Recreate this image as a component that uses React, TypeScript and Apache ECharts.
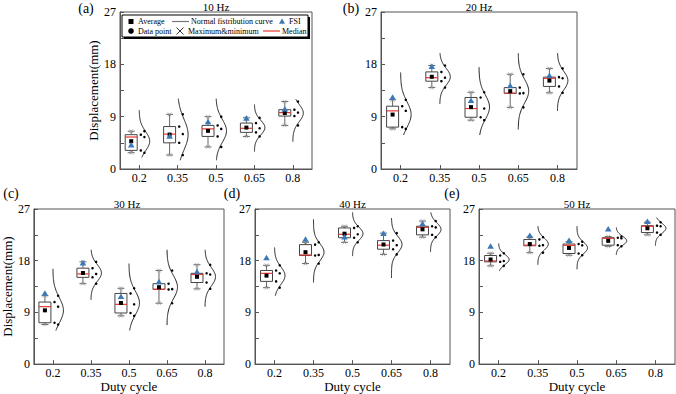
import React, { useEffect, useRef } from 'react';
import * as echarts from 'echarts';

const SERIF = "'Liberation Serif', 'Times New Roman', serif";

const DUTY_CYCLES = ['0.2', '0.35', '0.5', '0.65', '0.8'];
const Y_MIN = 0;
const Y_MAX = 27;
const Y_INTERVAL = 9;

// ---- 10 Hz ----
const POINTS_10HZ = [
  [2.8, 3.2, 5.5, 5.9, 6.5],
  [2.4, 4.5, 6.0, 7.3, 9.4],
  [3.8, 5.6, 6.9, 7.5, 9.0],
  [5.6, 6.3, 7.0, 7.9, 8.8],
  [7.5, 9.1, 9.7, 10.2, 11.6],
];
const FSI_10HZ = [4.1, 5.6, 8.1, 8.7, 10.3];
const CURVE_LOW_10HZ = [2.0, 1.5, 1.5, 3.0, 4.7];
const CURVE_HIGH_10HZ = [10.1, 12.1, 12.1, 11.1, 12.0];

// ---- 20 Hz ----
const POINTS_20HZ = [
  [6.9, 7.2, 10.0, 10.8, 11.9],
  [14.0, 15.1, 15.7, 16.7, 17.8],
  [8.4, 8.9, 10.4, 12.3, 13.2],
  [10.6, 13.0, 13.05, 14.0, 16.3],
  [13.1, 14.2, 15.6, 15.8, 17.3],
];
const FSI_20HZ = [12.3, 17.6, 11.75, 14.3, 16.05];
const CURVE_LOW_20HZ = [5.85, 11.2, 5.85, 6.8, 10.0];
const CURVE_HIGH_20HZ = [16.6, 19.9, 17.5, 19.9, 19.9];

// ---- 30 Hz ----
const POINTS_30HZ = [
  [6.9, 7.2, 10.0, 10.8, 11.9],
  [14.0, 15.1, 15.7, 16.7, 17.8],
  [8.4, 8.9, 10.4, 12.3, 13.2],
  [10.6, 13.0, 13.05, 14.0, 16.3],
  [13.1, 14.2, 15.6, 15.8, 17.3],
];
const FSI_30HZ = [12.3, 17.6, 11.75, 14.3, 16.05];
const CURVE_LOW_30HZ = [5.85, 11.2, 5.85, 6.8, 10.0];
const CURVE_HIGH_30HZ = [16.6, 19.9, 17.5, 19.9, 19.9];

// ---- 40 Hz ----
const POINTS_40HZ = [
  [13.3, 14.4, 15.8, 16.3, 17.2],
  [17.5, 18.9, 19.0, 20.8, 21.2],
  [21.2, 22.0, 22.6, 23.7, 24.0],
  [19.1, 20.0, 20.7, 21.5, 22.8],
  [22.1, 22.5, 23.8, 24.0, 24.9],
];
const FSI_40HZ = [18.5, 21.7, 22.1, 22.7, 24.4];
const CURVE_LOW_40HZ = [11.9, 14.2, 18.8, 15.0, 19.5];
const CURVE_HIGH_40HZ = [20.3, 25.2, 26.4, 25.4, 26.4];

// ---- 50 Hz ----
const POINTS_50HZ = [
  [17.1, 17.8, 17.95, 18.9, 19.3],
  [19.4, 20.6, 20.7, 21.7, 22.1],
  [18.96, 19.25, 20.68, 20.9, 21.3],
  [20.5, 20.7, 21.9, 22.0, 22.2],
  [22.5, 22.9, 24.0, 24.1, 24.7],
];
const FSI_50HZ = [20.5, 22.35, 21.5, 23.5, 24.8];
const CURVE_LOW_50HZ = [16.2, 17.3, 16.5, 19.0, 20.6];
const CURVE_HIGH_50HZ = [21.0, 24.0, 24.0, 23.8, 25.5];

const PANEL_TITLES = ['10 Hz', '20 Hz', '30 Hz', '40 Hz', '50 Hz'];
const PANEL_LETTERS = ['(a)', '(b)', '(c)', '(d)', '(e)'];

const PANELS = [
  { points: POINTS_10HZ, fsi: FSI_10HZ, lo: CURVE_LOW_10HZ, hi: CURVE_HIGH_10HZ,
    grid: { left: 120, top: 12, width: 192, height: 157 }, yName: true, yNameGap: 20, xName: false, letter: [86, 8] },
  { points: POINTS_20HZ, fsi: FSI_20HZ, lo: CURVE_LOW_20HZ, hi: CURVE_HIGH_20HZ,
    grid: { left: 381, top: 12, width: 196, height: 157 }, yName: false, yNameGap: 20, xName: false, letter: [351, 8] },
  { points: POINTS_30HZ, fsi: FSI_30HZ, lo: CURVE_LOW_30HZ, hi: CURVE_HIGH_30HZ,
    grid: { left: 30, top: 209, width: 194, height: 157 }, yName: true, yNameGap: 15, xName: true, letter: [11, 193] },
  { points: POINTS_40HZ, fsi: FSI_40HZ, lo: CURVE_LOW_40HZ, hi: CURVE_HIGH_40HZ,
    grid: { left: 255, top: 209, width: 195, height: 157 }, yName: false, yNameGap: 20, xName: true, letter: [232, 193] },
  { points: POINTS_50HZ, fsi: FSI_50HZ, lo: CURVE_LOW_50HZ, hi: CURVE_HIGH_50HZ,
    grid: { left: 479, top: 209, width: 196, height: 157 }, yName: false, yNameGap: 20, xName: true, letter: [452, 193] },
];

function median(arr: number[]) {
  const m = arr.length;
  return m % 2 ? arr[(m - 1) / 2] : (arr[m / 2 - 1] + arr[m / 2]) / 2;
}

function stats(values: number[]) {
  const s = values.slice().sort((a, b) => a - b);
  const n = s.length;
  const half = Math.ceil(n / 2);
  const mean = s.reduce((a, b) => a + b, 0) / n;
  const sd = Math.sqrt(s.reduce((a, b) => a + (b - mean) * (b - mean), 0) / (n - 1));
  return {
    sorted: s,
    min: s[0],
    max: s[n - 1],
    q1: median(s.slice(0, half)),
    q3: median(s.slice(n - half)),
    med: median(s),
    mean,
    sd,
  };
}

const FSI_COLOR = '#3a78b8';
const MEDIAN_COLOR = '#e8362f';

function makeRenderItem(panel: any) {
  return (params: any, api: any) => {
    const i = api.value(0);
    const st = stats(panel.points[i]);
    const tx = api.coord([i, 0])[0];
    const Y = (v: number) => api.coord([i, v])[1];
    const bx = tx - 8;
    const bw = 12;
    const children: any[] = [];

    // normal distribution curve
    const lo = panel.lo[i];
    const hi = panel.hi[i];
    const amp = 10.5;
    const pts: number[][] = [];
    const steps = 70;
    for (let k = 0; k <= steps; k++) {
      const v = lo + ((hi - lo) * k) / steps;
      const z = (v - st.mean) / st.sd;
      pts.push([tx + amp * Math.exp((-z * z) / 2), Y(v)]);
    }
    children.push({ type: 'polyline', shape: { points: pts }, style: { stroke: '#222', lineWidth: 1, fill: 'none' } });

    // whiskers
    const wStyle = { stroke: '#666', lineWidth: 1 };
    children.push({ type: 'line', shape: { x1: bx, y1: Y(st.max), x2: bx, y2: Y(st.q3) }, style: wStyle });
    children.push({ type: 'line', shape: { x1: bx, y1: Y(st.min), x2: bx, y2: Y(st.q1) }, style: wStyle });
    children.push({ type: 'line', shape: { x1: bx - 3.5, y1: Y(st.max), x2: bx + 3.5, y2: Y(st.max) }, style: wStyle });
    children.push({ type: 'line', shape: { x1: bx - 3.5, y1: Y(st.min), x2: bx + 3.5, y2: Y(st.min) }, style: wStyle });
    // max/min crosses
    const xs = 1.8;
    [st.max, st.min].forEach((v) => {
      const yy = Y(v);
      children.push({ type: 'line', shape: { x1: bx - xs, y1: yy - xs, x2: bx + xs, y2: yy + xs }, style: { stroke: '#999', lineWidth: 0.8 } });
      children.push({ type: 'line', shape: { x1: bx - xs, y1: yy + xs, x2: bx + xs, y2: yy - xs }, style: { stroke: '#999', lineWidth: 0.8 } });
    });

    // box
    const yq3 = Y(st.q3);
    const yq1 = Y(st.q1);
    children.push({
      type: 'rect',
      shape: { x: bx - bw / 2, y: yq3, width: bw, height: Math.max(yq1 - yq3, 0.5) },
      style: { fill: '#fff', stroke: '#444', lineWidth: 1 },
    });
    // median
    const ym = Y(st.med);
    children.push({ type: 'line', shape: { x1: bx - bw / 2, y1: ym, x2: bx + bw / 2, y2: ym }, style: { stroke: MEDIAN_COLOR, lineWidth: 1.2 } });
    // mean
    const yMean = Y(st.mean);
    children.push({ type: 'rect', shape: { x: bx - 2, y: yMean - 2, width: 4, height: 4 }, style: { fill: '#000' } });
    // FSI
    const yf = Y(panel.fsi[i]);
    children.push({
      type: 'polygon',
      shape: { points: [[bx, yf - 3.2], [bx - 3.3, yf + 2.4], [bx + 3.3, yf + 2.4]] },
      style: { fill: FSI_COLOR },
    });
    // data points
    st.sorted.forEach((v, k) => {
      const dx = k % 2 === 0 ? 5.2 : 1.6;
      children.push({ type: 'circle', shape: { cx: tx + dx, cy: Y(v), r: 1.25 }, style: { fill: '#000' } });
    });

    return { type: 'group', children };
  };
}

export default function App() {
  const ref = useRef<HTMLDivElement>(null);

  useEffect(() => {
    if (!ref.current) return;
    const chart = echarts.init(ref.current, undefined, { renderer: 'svg' });

    const axisColor = '#555';
    const grids = PANELS.map((p) => ({ ...p.grid, show: true, borderColor: axisColor, borderWidth: 1, backgroundColor: 'transparent' }));

    const xAxes = PANELS.map((p, g) => ({
      type: 'category',
      gridIndex: g,
      data: DUTY_CYCLES,
      boundaryGap: true,
      axisLine: { show: true, lineStyle: { color: axisColor, width: 1 } },
      axisTick: { show: true, inside: true, alignWithLabel: true, length: 4, lineStyle: { color: axisColor } },
      axisLabel: { color: '#000', fontFamily: SERIF, fontSize: 12, margin: 3 },
      splitLine: { show: false },
      name: p.xName ? 'Duty cycle' : '',
      nameLocation: 'middle',
      nameGap: 12,
      nameTextStyle: { color: '#000', fontFamily: SERIF, fontSize: 13 },
    }));

    const yAxes = PANELS.map((p, g) => ({
      type: 'value',
      gridIndex: g,
      min: Y_MIN,
      max: Y_MAX,
      interval: Y_INTERVAL,
      axisLine: { show: true, lineStyle: { color: axisColor, width: 1 } },
      axisTick: { show: true, inside: true, length: 4, lineStyle: { color: axisColor } },
      minorTick: { show: true, splitNumber: 2, length: 4, lineStyle: { color: axisColor } },
      splitLine: { show: false },
      axisLabel: { color: '#000', fontFamily: SERIF, fontSize: 12, margin: 4 },
      name: p.yName ? 'Displacement(mm)' : '',
      nameLocation: 'middle',
      nameGap: p.yNameGap,
      nameTextStyle: { color: '#000', fontFamily: SERIF, fontSize: 13 },
    }));

    const series = PANELS.map((p, g) => ({
      type: 'custom',
      xAxisIndex: g,
      yAxisIndex: g,
      silent: true,
      clip: false,
      renderItem: makeRenderItem(p),
      encode: { x: 0, y: 1 },
      data: DUTY_CYCLES.map((_, i) => [i, stats(p.points[i]).mean]),
    }));

    const graphic: any[] = [];
    PANELS.forEach((p, g) => {
      graphic.push({
        type: 'text',
        x: p.grid.left + p.grid.width / 2,
        y: p.grid.top - 5.5,
        style: { text: PANEL_TITLES[g], fill: '#000', font: `11px ${SERIF}`, align: 'center', verticalAlign: 'middle' },
      });
      graphic.push({
        type: 'text',
        x: p.letter[0],
        y: p.letter[1],
        style: { text: PANEL_LETTERS[g], fill: '#000', font: `14px ${SERIF}`, align: 'center', verticalAlign: 'middle' },
      });
    });

    // legend (panel a)
    const lf = `8px ${SERIF}`;
    const r1 = 21.5;
    const r2 = 31;
    graphic.push(
      { type: 'rect', shape: { x: 124, y: 17, width: 186, height: 22 }, style: { fill: '#000' } },
      { type: 'rect', shape: { x: 122, y: 15, width: 186, height: 22 }, style: { fill: '#fff', stroke: '#000', lineWidth: 1 } },
      { type: 'rect', shape: { x: 128.5, y: r1 - 2.5, width: 5, height: 5 }, style: { fill: '#000' } },
      { type: 'text', x: 138, y: r1, style: { text: 'Average', fill: '#000', font: lf, verticalAlign: 'middle' } },
      { type: 'line', shape: { x1: 172, y1: r1, x2: 189, y2: r1 }, style: { stroke: '#777', lineWidth: 1.2 } },
      { type: 'text', x: 191, y: r1, style: { text: 'Normal fistribution curve', fill: '#000', font: lf, verticalAlign: 'middle' } },
      { type: 'polygon', shape: { points: [[282, r1 - 3], [279, r1 + 2.2], [285, r1 + 2.2]] }, style: { fill: FSI_COLOR } },
      { type: 'text', x: 289, y: r1, style: { text: 'FSI', fill: '#000', font: lf, verticalAlign: 'middle' } },
      { type: 'circle', shape: { cx: 131, cy: r2, r: 2.8 }, style: { fill: '#000' } },
      { type: 'text', x: 138, y: r2, style: { text: 'Data point', fill: '#000', font: lf, verticalAlign: 'middle' } },
      { type: 'line', shape: { x1: 176.5, y1: r2 - 3.5, x2: 183.5, y2: r2 + 3.5 }, style: { stroke: '#000', lineWidth: 0.8 } },
      { type: 'line', shape: { x1: 176.5, y1: r2 + 3.5, x2: 183.5, y2: r2 - 3.5 }, style: { stroke: '#000', lineWidth: 0.8 } },
      { type: 'text', x: 188, y: r2, style: { text: 'Maximum&minimum', fill: '#000', font: lf, verticalAlign: 'middle' } },
      { type: 'line', shape: { x1: 263, y1: r2, x2: 280, y2: r2 }, style: { stroke: MEDIAN_COLOR, lineWidth: 1.2 } },
      { type: 'text', x: 282, y: r2, style: { text: 'Median', fill: '#000', font: lf, verticalAlign: 'middle' } },
    );

    chart.setOption({
      animation: false,
      backgroundColor: '#fff',
      grid: grids,
      xAxis: xAxes,
      yAxis: yAxes,
      series,
      graphic,
    } as any);

    return () => chart.dispose();
  }, []);

  return <div ref={ref} style={{ width: 676, height: 394, position: 'absolute', left: 0, top: 0 }} />;
}
